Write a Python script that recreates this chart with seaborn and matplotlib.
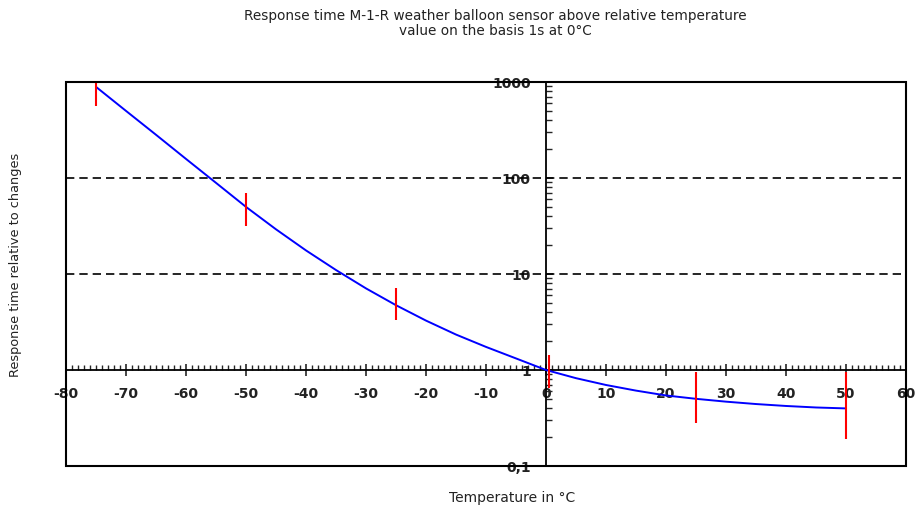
import numpy as np
import pandas as pd
import matplotlib
matplotlib.use('Agg')
import matplotlib.pyplot as plt
import matplotlib.ticker as mticker
from matplotlib.patches import Rectangle
import seaborn as sns

# curve (temperature in degC, relative response time)
temp = [-75, -70, -65, -60, -55, -50, -45, -40, -35, -30, -25, -20, -15, -10, -5,
        0, 5, 10, 15, 20, 25, 30, 35, 40, 45, 50]
resp = [890, 500, 282, 158, 89, 50, 29.2, 17.6, 11.0, 7.08, 4.73, 3.27, 2.34, 1.74, 1.32,
        1.0, 0.822, 0.698, 0.610, 0.543, 0.501, 0.468, 0.442, 0.422, 0.407, 0.398]

# red uncertainty bars
err_x = [-75, -50, -25, 0.5, 25, 50]
err_lo = [560, 32, 3.3, 0.65, 0.28, 0.19]
err_hi = [1050, 69, 7.2, 1.43, 0.95, 0.95]

grid_y = [10, 100]
ytick_vals = [0.1, 1, 10, 100, 1000]
ytick_text = ['0,1', '1', '10', '100', '1000']
xtick_vals = list(range(-80, 61, 10))

df = pd.DataFrame({'temp': temp, 'resp': resp})

sns.set_style('white')
plt.rcParams['font.family'] = ['DejaVu Sans']
plt.rcParams['axes.unicode_minus'] = False

fig = plt.figure(figsize=(9.15, 5.13), dpi=100)
ax = fig.add_axes([66/915, 1-466/513, (906-66)/915, (466-82)/513])

for yv in grid_y:
    ax.axhline(yv, color='black', lw=1.2, ls=(0, (5, 3)), zorder=1)

sns.lineplot(data=df, x='temp', y='resp', ax=ax, color='#0000ff', lw=1.4, zorder=3)
ax.vlines(err_x, err_lo, err_hi, color='red', lw=1.5, zorder=4)

ax.set_yscale('log')
ax.set_xlim(-80, 60)
ax.set_ylim(0.1, 1000)

# axes crossing in the middle
ax.spines['left'].set_position(('data', 0))
ax.spines['bottom'].set_position(('data', 1))
for s in ax.spines.values():
    s.set_color('black')
    s.set_linewidth(1.3)
ax.add_patch(Rectangle((0, 0), 1, 1, transform=ax.transAxes, fill=False,
                       lw=1.5, edgecolor='black', clip_on=False, zorder=5))

ax.set_xticks(xtick_vals)
ax.xaxis.set_minor_locator(mticker.MultipleLocator(1))
ax.tick_params(axis='x', which='major', direction='inout', length=8, width=1.2,
               pad=8, labelsize=10)
ax.tick_params(axis='x', which='minor', direction='in', length=3.5, width=1)
ax.xaxis.set_ticks_position('bottom')

ax.set_yticks(ytick_vals)
ax.set_yticklabels(ytick_text)
ax.yaxis.set_minor_locator(mticker.LogLocator(base=10, subs=np.arange(2, 10)))
ax.yaxis.set_minor_formatter(mticker.NullFormatter())
ax.tick_params(axis='y', which='major', direction='in', length=5, width=1.2,
               pad=11, labelsize=10)
ax.tick_params(axis='y', which='minor', direction='in', length=4, width=1)
ax.yaxis.set_ticks_position('left')

for lab in ax.get_xticklabels() + ax.get_yticklabels():
    lab.set_fontweight('bold')
    lab.set_color('#222222')

ax.set_xlabel('')
ax.set_ylabel('')
fig.text(495/915, 1-23.5/513,
         'Response time M-1-R weather balloon sensor above relative temperature\n'
         'value on the basis 1s at 0°C', ha='center', va='center',
         fontsize=9.8, linespacing=1.15, color='#222222')
fig.text(512/915, 1-498/513, 'Temperature in °C', ha='center', va='center',
         fontsize=10, color='#222222')
fig.text(16/915, 1-265/513, 'Response time relative to changes', ha='center', va='center',
         rotation=90, fontsize=9.3, color='#222222')

fig.savefig('out.png', dpi=100)
